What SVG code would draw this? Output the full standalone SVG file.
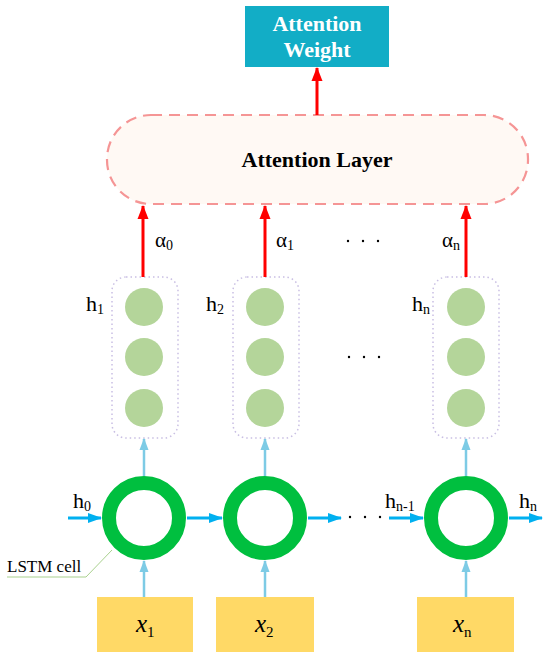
<svg xmlns="http://www.w3.org/2000/svg" width="550" height="660" viewBox="0 0 550 660" font-family="'Liberation Serif', 'DejaVu Serif', serif">
<style>
text{font-family:'Liberation Serif','DejaVu Serif',serif;fill:#000}
.lbl{font-size:22px}
.sub{font-size:14px}
.title{font-size:22px;font-weight:bold;fill:#fff}
.dotbox{fill:none;stroke:#c9bfe3;stroke-width:1.5;stroke-dasharray:1.5 3}
.neuron{fill:#b4d59a}
.ring{fill:none;stroke:#00bf3f;stroke-width:14}
.xbox{fill:#ffd966}
.red{stroke:#ff0000;stroke-width:3;fill:none}
.blue{stroke:#00b0f0;stroke-width:3;fill:none}
.lblue{stroke:#7dcbe5;stroke-width:2.5;fill:none}
</style>
<defs>
<marker id="mr" markerUnits="userSpaceOnUse" markerWidth="14" markerHeight="14" viewBox="0 0 14 14" refX="13" refY="7" orient="auto"><path d="M0,1.5 L14,7 L0,12.5 Z" fill="#ff0000"/></marker>
<marker id="mb" markerUnits="userSpaceOnUse" markerWidth="14" markerHeight="14" viewBox="0 0 14 14" refX="13" refY="7" orient="auto"><path d="M0,2 L14,7 L0,12 Z" fill="#00b0f0"/></marker>
<marker id="ml" markerUnits="userSpaceOnUse" markerWidth="12" markerHeight="12" viewBox="0 0 12 12" refX="11" refY="6" orient="auto"><path d="M0,1.5 L12,6 L0,10.5 Z" fill="#7dcbe5"/></marker>
</defs>
<rect width="550" height="660" fill="#fff"/>

<g id="attention-weight">
<rect x="245" y="6" width="144" height="61" fill="#12adc6"/>
<text class="title" x="317" y="31" text-anchor="middle">Attention</text>
<text class="title" x="317" y="57" text-anchor="middle">Weight</text>
</g>

<g id="attention-layer">
<rect x="107" y="115" width="421" height="89" rx="44" ry="44" fill="#fff9f4" stroke="#f59595" stroke-width="2.2" stroke-dasharray="11 7"/>
<text x="317" y="167" text-anchor="middle" font-size="22" font-weight="bold">Attention Layer</text>
</g>

<g id="hidden-1">
<rect class="dotbox" x="112" y="277" width="66" height="161" rx="14"/>
<circle class="neuron" cx="144" cy="307" r="19"/>
<circle class="neuron" cx="144" cy="357" r="19"/>
<circle class="neuron" cx="144" cy="408" r="19"/>
<text class="lbl" x="86" y="311">h<tspan class="sub" dy="3">1</tspan></text>
</g>
<g id="hidden-2">
<rect class="dotbox" x="233" y="277" width="66" height="161" rx="14"/>
<circle class="neuron" cx="265" cy="307" r="19"/>
<circle class="neuron" cx="265" cy="357" r="19"/>
<circle class="neuron" cx="265" cy="408" r="19"/>
<text class="lbl" x="206" y="311">h<tspan class="sub" dy="3">2</tspan></text>
</g>
<g id="hidden-n">
<rect class="dotbox" x="433" y="277" width="66" height="161" rx="14"/>
<circle class="neuron" cx="466" cy="307" r="19"/>
<circle class="neuron" cx="466" cy="357" r="19"/>
<circle class="neuron" cx="466" cy="408" r="19"/>
<text class="lbl" x="412" y="311">h<tspan class="sub" dy="3">n</tspan></text>
</g>

<g id="lstm-1"><circle class="ring" cx="144" cy="518" r="35"/></g>
<g id="lstm-2"><circle class="ring" cx="265" cy="518" r="35"/></g>
<g id="lstm-n"><circle class="ring" cx="466" cy="518" r="35"/></g>

<g id="input-1">
<rect class="xbox" x="97" y="597" width="96" height="55"/>
<text x="136" y="632" font-size="25" font-style="italic">x<tspan font-size="15" font-style="normal" dy="5">1</tspan></text>
</g>
<g id="input-2">
<rect class="xbox" x="216" y="597" width="98" height="55"/>
<text x="255" y="632" font-size="25" font-style="italic">x<tspan font-size="15" font-style="normal" dy="5">2</tspan></text>
</g>
<g id="input-n">
<rect class="xbox" x="417" y="597" width="97" height="55"/>
<text x="453" y="632" font-size="25" font-style="italic">x<tspan font-size="15" font-style="normal" dy="5">n</tspan></text>
</g>

<g id="connectors">
<line class="red" x1="317" y1="115" x2="317" y2="68" marker-end="url(#mr)"/>
<line class="red" x1="143" y1="277" x2="143" y2="206" marker-end="url(#mr)"/>
<line class="red" x1="265" y1="277" x2="265" y2="206" marker-end="url(#mr)"/>
<line class="red" x1="466" y1="277" x2="466" y2="206" marker-end="url(#mr)"/>

<line class="lblue" x1="144" y1="476" x2="144" y2="439" marker-end="url(#ml)"/>
<line class="lblue" x1="265" y1="476" x2="265" y2="439" marker-end="url(#ml)"/>
<line class="lblue" x1="466" y1="476" x2="466" y2="439" marker-end="url(#ml)"/>
<line class="lblue" x1="144" y1="597" x2="144" y2="561" marker-end="url(#ml)"/>
<line class="lblue" x1="265" y1="597" x2="265" y2="561" marker-end="url(#ml)"/>
<line class="lblue" x1="466" y1="597" x2="466" y2="561" marker-end="url(#ml)"/>

<line class="blue" x1="68" y1="518" x2="101" y2="518" marker-end="url(#mb)"/>
<line class="blue" x1="187" y1="518" x2="222" y2="518" marker-end="url(#mb)"/>
<line class="blue" x1="308" y1="518" x2="341" y2="518" marker-end="url(#mb)"/>
<line class="blue" x1="389" y1="518" x2="423" y2="518" marker-end="url(#mb)"/>
<line class="blue" x1="509" y1="518" x2="542" y2="518" marker-end="url(#mb)"/>

<polyline points="7,577 86,577 112,550" fill="none" stroke="#a9d18e" stroke-width="1"/>
</g>

<g id="labels">
<text x="155" y="247" font-size="21">α<tspan class="sub" dy="3">0</tspan></text>
<text x="276" y="247" font-size="21">α<tspan class="sub" dy="3">1</tspan></text>
<text x="442" y="247" font-size="21">α<tspan class="sub" dy="3">n</tspan></text>
<text class="lbl" x="73" y="508">h<tspan class="sub" dy="3">0</tspan></text>
<text class="lbl" x="385" y="508">h<tspan class="sub" dy="3">n-1</tspan></text>
<text class="lbl" x="519" y="508">h<tspan class="sub" dy="3">n</tspan></text>
<text x="7" y="572" font-size="17">LSTM cell</text>
<g fill="#000">
<circle cx="348" cy="241" r="1.2"/><circle cx="363" cy="241" r="1.2"/><circle cx="378" cy="241" r="1.2"/>
<circle cx="349" cy="357" r="1.2"/><circle cx="364" cy="357" r="1.2"/><circle cx="379" cy="357" r="1.2"/>
<circle cx="350" cy="517" r="1.2"/><circle cx="365" cy="517" r="1.2"/><circle cx="380" cy="517" r="1.2"/>
</g>
</g>
</svg>
